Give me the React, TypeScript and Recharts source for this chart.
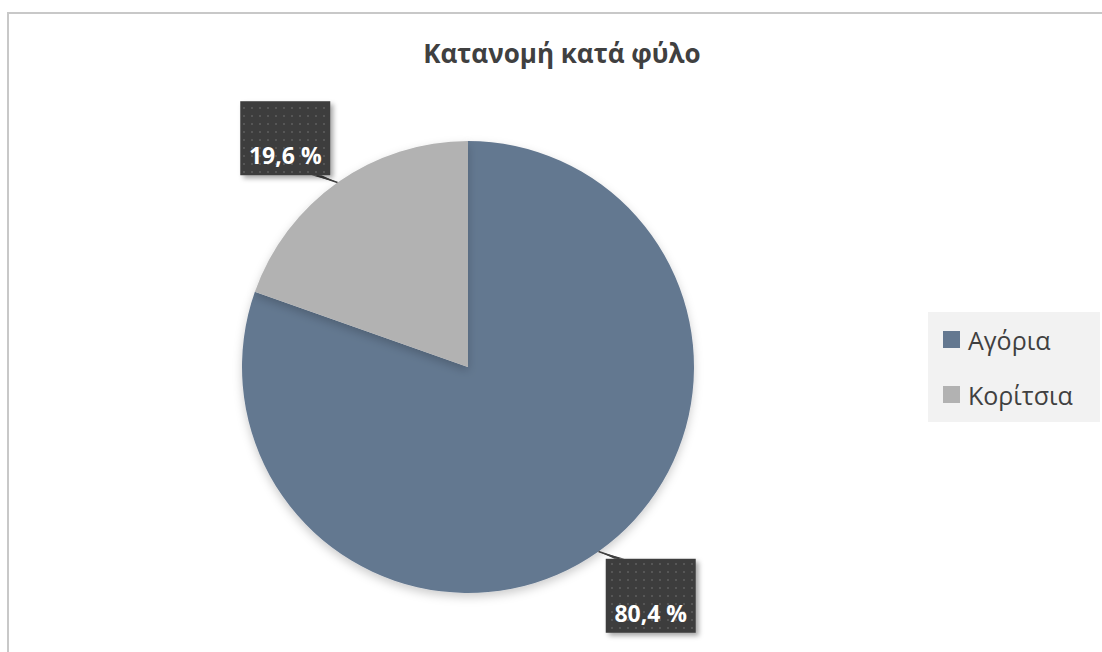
import { PieChart, Pie, Cell, Legend } from "recharts"

const categories = ["Αγόρια", "Κορίτσια"]
const shares = [80.4, 19.6]
const sliceColors = ["#647890", "#b2b2b2"]

const data = categories.map((name, i) => ({ name, value: shares[i] }))

const RAD = Math.PI / 180

function CalloutLabel(props: any) {
  const { cx, cy, midAngle, outerRadius, value } = props
  const cos = Math.cos(-midAngle * RAD)
  const sin = Math.sin(-midAngle * RAD)
  // box sits a bit outside the slice, pulled sideways a touch
  const bx = cx + outerRadius * 1.4 * cos
  const by = cy + outerRadius * 1.24 * sin
  const w = 90
  const h = 74
  const ex = cx + outerRadius * cos
  const ey = cy + outerRadius * sin
  const edgeY = sin > 0 ? by - h / 2 : by + h / 2
  const tx = bx + (ex - bx) * 0.6
  const text = value.toFixed(1).replace(".", ",") + " %"
  return (
    <g>
      <polygon
        points={`${ex},${ey} ${tx - 5},${edgeY} ${tx + 5},${edgeY}`}
        fill="#404040"
      />
      <line x1={ex} y1={ey} x2={tx} y2={edgeY} stroke="#404040" strokeWidth={1.5} />
      <rect
        x={bx - w / 2}
        y={by - h / 2}
        width={w}
        height={h}
        fill="url(#dots)"
        filter="url(#boxShadow)"
      />
      <text
        x={bx}
        y={by + 26}
        textAnchor="middle"
        fill="#ffffff"
        fontSize={23}
        fontWeight="bold"
        fontFamily="'Open Sans', sans-serif"
      >
        {text}
      </text>
    </g>
  )
}

function LegendBox() {
  return (
    <div
      style={{
        background: "#f2f2f2",
        width: 172,
        height: 110,
        boxSizing: "border-box",
        padding: "0 0 0 15px",
        fontFamily: "'Open Sans', sans-serif",
        fontSize: 25,
        color: "#404040",
      }}
    >
      {data.map((d, i) => (
        <div key={d.name} style={{ display: "flex", alignItems: "center", height: 55 }}>
          <span
            style={{
              display: "inline-block",
              width: 17,
              height: 17,
              background: sliceColors[i],
              marginRight: 8,
            }}
          />
          <span>{d.name}</span>
        </div>
      ))}
    </div>
  )
}

export default function App() {
  return (
    <div style={{ position: "absolute", left: 0, top: 0, width: 1102, height: 652, background: "#fff", overflow: "hidden" }}>
      <div
        style={{
          position: "absolute",
          left: 7,
          top: 12,
          width: 1102,
          height: 660,
          borderLeft: "2px solid #c8c8c8",
          borderTop: "2px solid #c8c8c8",
        }}
      />
      <div
        style={{
          position: "absolute",
          left: 0,
          top: 35,
          width: 1124,
          textAlign: "center",
          fontFamily: "'Open Sans', sans-serif",
          fontWeight: "bold",
          fontSize: 26,
          color: "#404040",
        }}
      >
        Κατανομή κατά φύλο
      </div>
      <div style={{ position: "absolute", left: 0, top: 0 }}>
        <PieChart width={1102} height={652} margin={{ top: 0, right: 0, bottom: 0, left: 0 }}>
          <defs>
            <pattern id="dots" width="8" height="8" patternUnits="userSpaceOnUse">
              <rect width="8" height="8" fill="#3c3c3c" />
              <rect x="3" y="3" width="2" height="2" fill="#575757" />
            </pattern>
            <filter id="boxShadow" x="-20%" y="-20%" width="150%" height="150%">
              <feDropShadow dx="3" dy="3" stdDeviation="2.5" floodColor="#000" floodOpacity="0.35" />
            </filter>
            <filter id="pieShadow" x="-10%" y="-10%" width="120%" height="125%">
              <feDropShadow dx="0" dy="4" stdDeviation="5" floodColor="#000" floodOpacity="0.2" />
            </filter>
          </defs>
          <Pie
            data={data}
            dataKey="value"
            nameKey="name"
            cx={468}
            cy={367}
            outerRadius={226}
            startAngle={90}
            endAngle={-270}
            stroke="none"
            label={CalloutLabel}
            labelLine={false}
            isAnimationActive={false}
            style={{ filter: "url(#pieShadow)" }}
          >
            {data.map((d, i) => (
              <Cell key={d.name} fill={sliceColors[i]} />
            ))}
          </Pie>
          <Legend
            content={<LegendBox />}
            wrapperStyle={{ position: "absolute", left: 928, top: 312, width: 172 }}
          />
        </PieChart>
      </div>
    </div>
  )
}
